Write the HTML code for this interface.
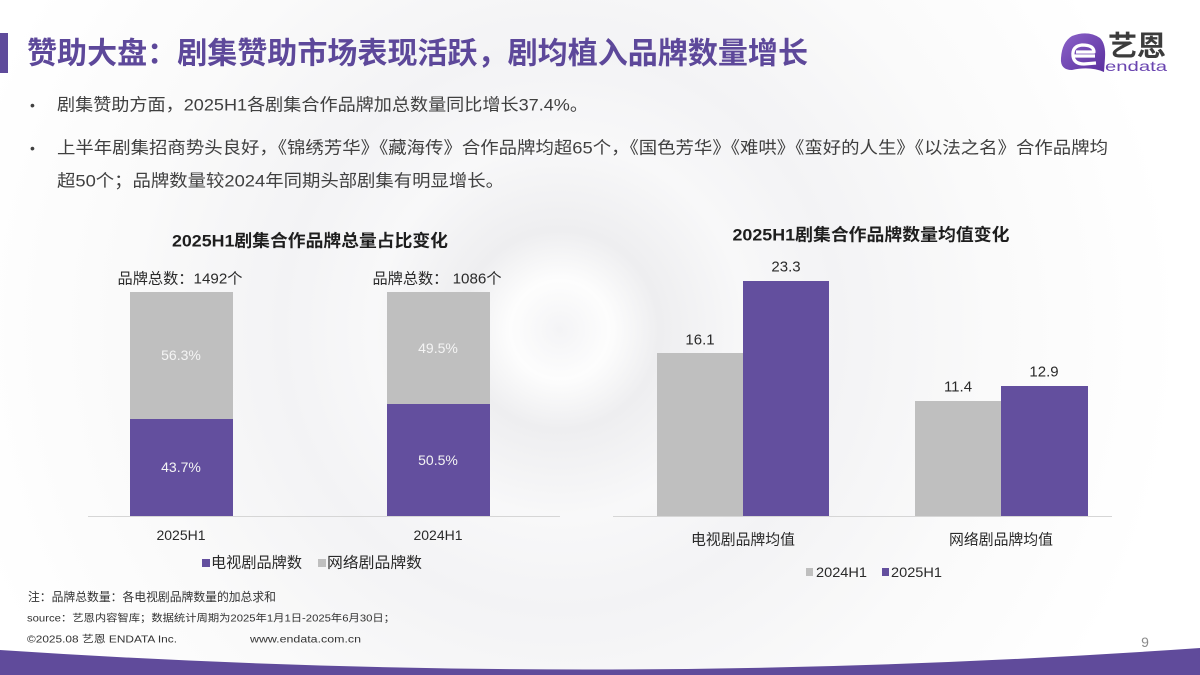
<!DOCTYPE html>
<html>
<head>
<meta charset="utf-8">
<style>
html,body{margin:0;padding:0;}
body{width:1200px;height:675px;overflow:hidden;background:#f8f8f9;}
svg{display:block;}
text{font-family:"Liberation Sans","Noto Sans CJK SC",sans-serif;}
</style>
</head>
<body>
<svg width="1200" height="675" viewBox="0 0 1200 675" xmlns="http://www.w3.org/2000/svg">
  <defs>
    <radialGradient id="bg" cx="560" cy="330" r="620" gradientUnits="userSpaceOnUse">
      <stop offset="0" stop-color="#f4f4f6"/>
      <stop offset="0.08" stop-color="#fdfdfd"/>
      <stop offset="0.16" stop-color="#eeeef0"/>
      <stop offset="0.3" stop-color="#f8f8f9"/>
      <stop offset="0.45" stop-color="#f3f3f5"/>
      <stop offset="0.7" stop-color="#fafafa"/>
      <stop offset="1" stop-color="#ffffff"/>
    </radialGradient>
    <linearGradient id="blob" x1="0" y1="0" x2="1" y2="1">
      <stop offset="0" stop-color="#8c63c9"/>
      <stop offset="1" stop-color="#5a2f9e"/>
    </linearGradient>
  </defs>
  <rect x="0" y="0" width="1200" height="675" fill="url(#bg)"/>

  <!-- title -->
  <rect x="0" y="33" width="8" height="40" fill="#5f4b9b"/>
  <text x="27" y="54" font-size="30" font-weight="bold" fill="#5d489a" dominant-baseline="central" textLength="781" lengthAdjust="spacingAndGlyphs">赞助大盘：剧集赞助市场表现活跃，剧均植入品牌数量增长</text>

  <!-- logo -->
  <path d="M1072,36 Q1088,30 1100,38 Q1106,44 1105,58 L1104,72 Q1090,66 1072,70 Q1060,70 1061,58 Q1062,42 1072,36 Z" fill="url(#blob)"/>
  <path d="M1095,56 L1073,56 Q1072,46 1082,45 Q1094,45 1094,52 L1076,52" fill="none" stroke="#ffffff" stroke-width="3.2" stroke-linejoin="round"/>
  <path d="M1073,56 Q1074,64 1084,64 L1096,63" fill="none" stroke="#ffffff" stroke-width="3.2"/>
  <text x="1108" y="46" font-size="28" font-weight="bold" fill="#3c3c3c" dominant-baseline="central" textLength="58" lengthAdjust="spacingAndGlyphs">艺恩</text>
  <text x="1105" y="66" font-size="14" fill="#6a45b0" dominant-baseline="central" textLength="62" lengthAdjust="spacingAndGlyphs">endata</text>

  <!-- bullets -->
  <g fill="#404040" font-size="17">
    <text x="30" y="105" dominant-baseline="central" font-size="14">•</text>
    <text x="57" y="105" dominant-baseline="central" textLength="531" lengthAdjust="spacingAndGlyphs">剧集赞助方面，2025H1各剧集合作品牌加总数量同比增长37.4%。</text>
    <text x="30" y="148" dominant-baseline="central" font-size="14">•</text>
    <text x="57" y="148" dominant-baseline="central" textLength="1051" lengthAdjust="spacingAndGlyphs">上半年剧集招商势头良好，《锦绣芳华》《藏海传》合作品牌均超65个，《国色芳华》《难哄》《蛮好的人生》《以法之名》合作品牌均</text>
    <text x="57" y="181" dominant-baseline="central" textLength="447" lengthAdjust="spacingAndGlyphs">超50个；品牌数量较2024年同期头部剧集有明显增长。</text>
  </g>

  <!-- left chart -->
  <text x="310" y="241" font-size="17" font-weight="bold" fill="#1e1e1e" text-anchor="middle" dominant-baseline="central" textLength="276" lengthAdjust="spacingAndGlyphs">2025H1剧集合作品牌总量占比变化</text>
  <text x="180" y="279" font-size="15" fill="#2a2a2a" text-anchor="middle" dominant-baseline="central" textLength="125" lengthAdjust="spacingAndGlyphs">品牌总数：1492个</text>
  <text x="437" y="279" font-size="15" fill="#2a2a2a" text-anchor="middle" dominant-baseline="central" textLength="129" lengthAdjust="spacingAndGlyphs">品牌总数： 1086个</text>

  <rect x="130" y="292" width="103" height="127" fill="#bfbfbf"/>
  <rect x="130" y="419" width="103" height="97" fill="#634f9e"/>
  <rect x="387" y="292" width="103" height="112" fill="#bfbfbf"/>
  <rect x="387" y="404" width="103" height="112" fill="#634f9e"/>
  <g font-size="14" fill="#f4f4f4" text-anchor="middle" dominant-baseline="central">
    <text x="181" y="355">56.3%</text>
    <text x="181" y="467">43.7%</text>
    <text x="438" y="348">49.5%</text>
    <text x="438" y="460">50.5%</text>
  </g>
  <line x1="88" y1="516.5" x2="560" y2="516.5" stroke="#d6d6d6" stroke-width="1"/>
  <g font-size="14" fill="#2a2a2a" text-anchor="middle" dominant-baseline="central">
    <text x="181" y="535">2025H1</text>
    <text x="438" y="535">2024H1</text>
  </g>
  <rect x="202" y="559" width="8" height="8" fill="#634f9e"/>
  <text x="211" y="563" font-size="15" fill="#2a2a2a" dominant-baseline="central" textLength="91" lengthAdjust="spacingAndGlyphs">电视剧品牌数</text>
  <rect x="318" y="559" width="8" height="8" fill="#bfbfbf"/>
  <text x="327" y="563" font-size="15" fill="#2a2a2a" dominant-baseline="central" textLength="95" lengthAdjust="spacingAndGlyphs">网络剧品牌数</text>

  <!-- right chart -->
  <text x="871" y="235" font-size="17" font-weight="bold" fill="#1e1e1e" text-anchor="middle" dominant-baseline="central" textLength="277" lengthAdjust="spacingAndGlyphs">2025H1剧集合作品牌数量均值变化</text>
  <rect x="657" y="353" width="86" height="163" fill="#bfbfbf"/>
  <rect x="743" y="281" width="86" height="235" fill="#634f9e"/>
  <rect x="915" y="401" width="86" height="115" fill="#bfbfbf"/>
  <rect x="1001" y="386" width="87" height="130" fill="#634f9e"/>
  <g font-size="15" fill="#2a2a2a" text-anchor="middle" dominant-baseline="central">
    <text x="700" y="340">16.1</text>
    <text x="786" y="267">23.3</text>
    <text x="958" y="387">11.4</text>
    <text x="1044" y="372">12.9</text>
  </g>
  <line x1="613" y1="516.5" x2="1112" y2="516.5" stroke="#d6d6d6" stroke-width="1"/>
  <g font-size="15" fill="#2a2a2a" text-anchor="middle" dominant-baseline="central">
    <text x="743" y="540" textLength="104" lengthAdjust="spacingAndGlyphs">电视剧品牌均值</text>
    <text x="1001" y="540" textLength="104" lengthAdjust="spacingAndGlyphs">网络剧品牌均值</text>
  </g>
  <rect x="806" y="568" width="7" height="8" fill="#bfbfbf"/>
  <text x="816" y="572" font-size="14" fill="#2a2a2a" dominant-baseline="central" textLength="51" lengthAdjust="spacingAndGlyphs">2024H1</text>
  <rect x="882" y="568" width="7" height="8" fill="#634f9e"/>
  <text x="891" y="572" font-size="14" fill="#2a2a2a" dominant-baseline="central" textLength="51" lengthAdjust="spacingAndGlyphs">2025H1</text>

  <!-- footer -->
  <text x="28" y="597" font-size="12" fill="#333" dominant-baseline="central" textLength="248" lengthAdjust="spacingAndGlyphs">注：品牌总数量：各电视剧品牌数量的加总求和</text>
  <text x="27" y="619" font-size="10" fill="#333" dominant-baseline="central" textLength="368" lengthAdjust="spacingAndGlyphs">source：艺恩内容智库；数据统计周期为2025年1月1日-2025年6月30日；</text>
  <text x="27" y="640" font-size="10" fill="#333" dominant-baseline="central" textLength="150" lengthAdjust="spacingAndGlyphs">©2025.08 艺恩 ENDATA Inc.</text>
  <text x="250" y="640" font-size="10" fill="#333" dominant-baseline="central" textLength="111" lengthAdjust="spacingAndGlyphs">www.endata.com.cn</text>
  <text x="1145" y="642" font-size="14" fill="#8a8a8a" text-anchor="middle" dominant-baseline="central">9</text>

  <!-- bottom band -->
  <path d="M0,650 Q600,690 1200,648 L1200,675 L0,675 Z" fill="#604b9b"/>
</svg>
</body>
</html>
